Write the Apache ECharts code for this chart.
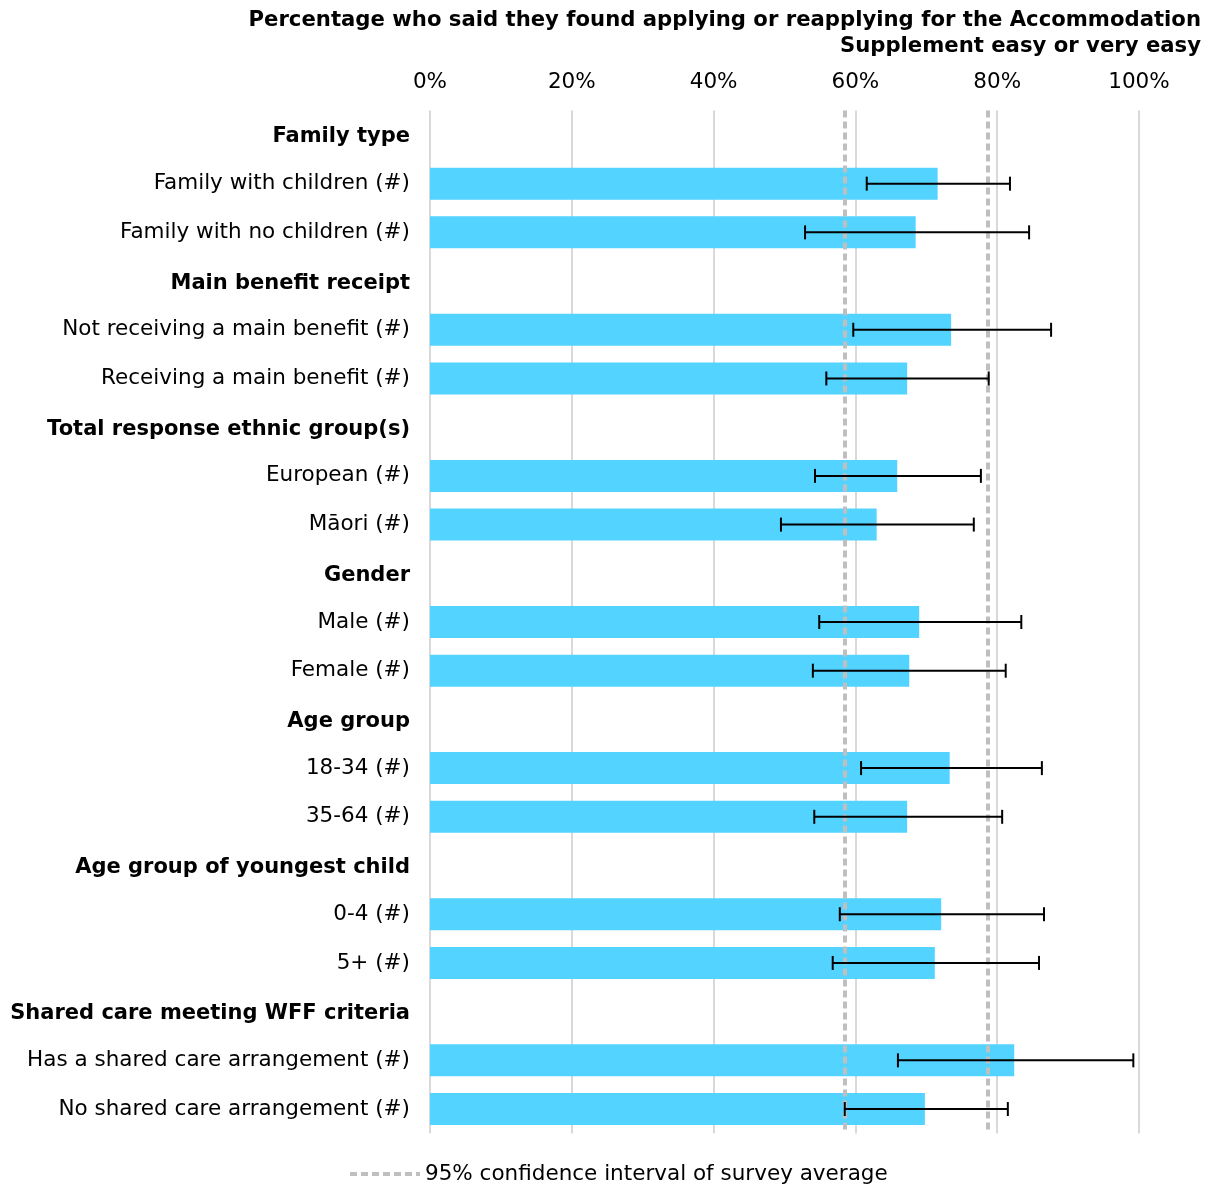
<!DOCTYPE html>
<html><head><meta charset="utf-8">
<script src="https://cdn.jsdelivr.net/npm/echarts@6/dist/echarts.min.js"></script>
<style>html,body{margin:0;padding:0;background:#fff}#c{width:1223px;height:1184px}</style>
</head><body><div id="c"></div>
<script>
const categories = ["Family type","Family with children (#)","Family with no children (#)",
 "Main benefit receipt","Not receiving a main benefit (#)","Receiving a main benefit (#)",
 "Total response ethnic group(s)","European (#)","Māori (#)",
 "Gender","Male (#)","Female (#)",
 "Age group","18-34 (#)","35-64 (#)",
 "Age group of youngest child","0-4 (#)","5+ (#)",
 "Shared care meeting WFF criteria","Has a shared care arrangement (#)","No shared care arrangement (#)"];
const headers = ["Family type","Main benefit receipt","Total response ethnic group(s)","Gender","Age group","Age group of youngest child","Shared care meeting WFF criteria"];
const values = [null,71.6,68.5, null,73.5,67.3, null,65.9,63.0, null,69.0,67.6, null,73.3,67.3, null,72.1,71.2, null,82.4,69.8];
const ciLow  = [null,61.6,52.9, null,59.7,55.9, null,54.3,49.5, null,54.9,54.0, null,60.8,54.2, null,57.8,56.8, null,66.0,58.5];
const ciHigh = [null,81.8,84.5, null,87.6,78.8, null,77.7,76.7, null,83.4,81.2, null,86.3,80.7, null,86.6,85.9, null,99.2,81.5];
const surveyCI = [58.5, 78.7];
const xTicks = [0,20,40,60,80,100];
const titleText = "Percentage who said they found applying or reapplying for the Accommodation\nSupplement easy or very easy";
const legendName = "95% confidence interval of survey average";

const font = "DejaVu Sans";
const fs = 21.5;
const chart = echarts.init(document.getElementById('c'));
const errData = categories.map((c,i)=> ciLow[i]==null ? null : [i, ciLow[i], ciHigh[i]]).filter(d=>d);
chart.setOption({
  animation:false,
  textStyle:{fontFamily:font},
  graphic:[{type:'text',right:22,top:7,silent:true,
    style:{text:titleText,textAlign:'right',fontFamily:font,fontSize:21.2,fontWeight:'bold',fill:'#000',lineHeight:26}}],
  grid:{left:430,right:84,top:110.6,bottom:50.6,containLabel:false},
  legend:{top:1158,left:343,itemWidth:70,itemHeight:14,itemGap:6,
    textStyle:{fontFamily:font,fontSize:fs,color:'#000'},
    itemStyle:{opacity:0},
    lineStyle:{type:[7,4],width:4,color:'#bfbfbf'},
    data:[legendName]},
  xAxis:{type:'value',position:'top',min:0,max:100,interval:20,
    axisLine:{show:false},axisTick:{show:false},
    axisLabel:{margin:17,fontSize:fs,color:'#000',fontFamily:font,formatter:v=>xTicks.includes(v)?v+'%':''},
    splitLine:{show:true,lineStyle:{color:'#d9d9d9',width:2}}},
  yAxis:{type:'category',data:categories,inverse:true,
    axisLine:{show:false},axisTick:{show:false},
    axisLabel:{margin:20,fontSize:fs,color:'#000',fontFamily:font,
      formatter:v=>headers.includes(v)?'{h|'+v+'}':v,
      rich:{h:{fontWeight:'bold',fontSize:21,fontFamily:font,color:'#000',padding:[4,0,0,0]}}}},
  series:[
    {type:'bar',data:values,barWidth:32,itemStyle:{color:'#53d3ff'},silent:true},
    {type:'custom',data:errData,z:5,silent:true,
      renderItem:(params,api)=>{
        const y=api.value(0);
        const p1=api.coord([api.value(1),y]);
        const p2=api.coord([api.value(2),y]);
        const h=7;
        const st={stroke:'#000',lineWidth:2};
        return {type:'group',children:[
          {type:'line',shape:{x1:p1[0],y1:p1[1],x2:p2[0],y2:p2[1]},style:st},
          {type:'line',shape:{x1:p1[0],y1:p1[1]-h,x2:p1[0],y2:p1[1]+h},style:st},
          {type:'line',shape:{x1:p2[0],y1:p2[1]-h,x2:p2[0],y2:p2[1]+h},style:st}
        ]};
      },
      encode:{x:[1,2],y:0}},
    {type:'line',name:legendName,data:[],symbol:'none',
      lineStyle:{type:[7,4],width:4,color:'#bfbfbf'},itemStyle:{color:'#bfbfbf'},
      markLine:{silent:true,symbol:'none',label:{show:false},
        lineStyle:{type:[7,4],width:4,color:'#bfbfbf'},
        data:surveyCI.map(v=>({xAxis:v}))}}
  ]
});
</script></body></html>
